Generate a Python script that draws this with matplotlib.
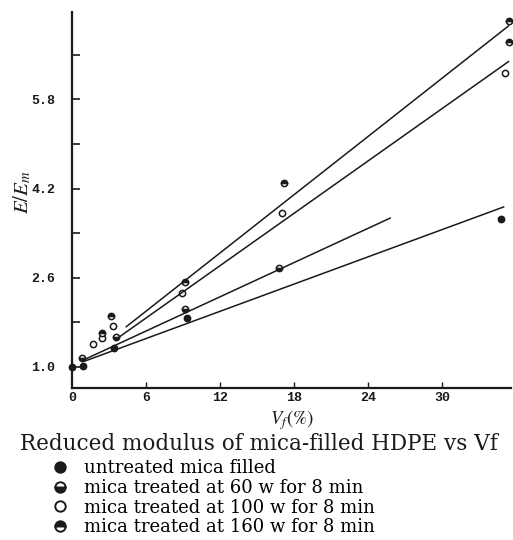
import matplotlib
matplotlib.use("Agg")
import matplotlib.pyplot as plt
from matplotlib.lines import Line2D

# ── Data ─────────────────────────────────────────────────────
# measured points (Vf %, E/Em)
untreated_x = [0.0, 0.9, 3.4, 9.3, 34.8]
untreated_y = [1.00, 1.02, 1.34, 1.88, 3.66]
w60_x = [0.8, 3.6, 9.2, 16.8]
w60_y = [1.16, 1.54, 2.04, 2.78]
w100_x = [1.7, 2.4, 3.3, 8.9, 17.0, 35.1]
w100_y = [1.41, 1.52, 1.74, 2.33, 3.76, 6.28]
w160_x = [2.4, 3.2, 9.2, 17.2, 35.4, 35.4]
w160_y = [1.61, 1.92, 2.53, 4.30, 7.21, 6.83]

# drawn fit lines (end points)
fit_untreated_x = [1.0, 35.0]
fit_untreated_y = [1.10, 3.87]
fit_60_x = [1.0, 25.8]
fit_60_y = [1.13, 3.67]
fit_100_x = [3.6, 35.4]
fit_100_y = [1.50, 6.48]
fit_160_x = [4.4, 35.4]
fit_160_y = [1.72, 7.12]

x_ticks = [6, 12, 18, 24, 30]
x_ticklabels = ["6", "12", "18", "24", "30"]
y_major = [1.0, 2.6, 4.2, 5.8]
y_minor = [1.8, 3.4, 5.0, 6.6]

legend_labels = [
    "untreated mica filled",
    "mica treated at 60 w for 8 min",
    "mica treated at 100 w for 8 min",
    "mica treated at 160 w for 8 min",
]
caption = "Reduced modulus of mica-filled HDPE vs Vf"

INK = "#1a1a1a"
plt.rcParams["mathtext.fontset"] = "stix"

fig = plt.figure(figsize=(5.13, 5.40), dpi=100)
ax = fig.add_axes([72 / 513, 152 / 540, 439 / 513, 376 / 540])

# fit lines
for fx, fy in [(fit_untreated_x, fit_untreated_y), (fit_60_x, fit_60_y),
               (fit_100_x, fit_100_y), (fit_160_x, fit_160_y)]:
    ax.plot(fx, fy, color=INK, linewidth=1.1)

# measured points
mk = dict(marker="o", linestyle="none", markersize=4.5, markeredgewidth=1.1,
          markeredgecolor=INK, markerfacecolor=INK, markerfacecoloralt="white",
          clip_on=False, zorder=3)
ax.plot(untreated_x, untreated_y, fillstyle="full", **mk)
ax.plot(w60_x, w60_y, fillstyle="bottom", **mk)
ax.plot(w100_x, w100_y, fillstyle="none", **mk)
ax.plot(w160_x, w160_y, fillstyle="top", **mk)

ax.set_xlim(0, 35.6)
ax.set_ylim(0.62, 7.37)

for s in ["top", "right"]:
    ax.spines[s].set_visible(False)
for s in ["left", "bottom"]:
    ax.spines[s].set_linewidth(1.6)
    ax.spines[s].set_color(INK)

ax.set_xticks(x_ticks)
ax.set_xticklabels(x_ticklabels)
ax.set_yticks(y_major)
ax.set_yticklabels([f"{v:.1f}" for v in y_major])
ax.set_yticks(y_minor, minor=True)
ax.tick_params(axis="y", which="both", direction="in", length=6, width=1.2,
               color=INK, pad=12)
ax.tick_params(axis="x", direction="in", length=4, width=1.0, color=INK, pad=3)
for lab in ax.get_xticklabels() + ax.get_yticklabels():
    lab.set_fontfamily("Liberation Mono")
    lab.set_fontweight("bold")
    lab.set_fontsize(9.5)
    lab.set_color(INK)

# "0" label at the origin
ax.text(0, -0.01, "0", transform=ax.get_xaxis_transform(), ha="center", va="top",
        fontfamily="Liberation Mono", fontweight="bold", fontsize=9.5, color=INK)

fig.text(22 / 513, 1 - 192 / 540, r"$E/E_m$", rotation=90, ha="center", va="center",
         fontsize=15, color=INK)
fig.text(292 / 513, 1 - 420 / 540, r"$V_f$(%)", ha="center", va="center",
         fontsize=13.5, color=INK, fontfamily="STIXGeneral")

fig.text(20 / 513, 1 - 444 / 540, caption, ha="left", va="center",
         fontfamily="DejaVu Serif", fontsize=15.5, color=INK)

handles = []
for fs in ["full", "bottom", "none", "top"]:
    handles.append(Line2D([], [], marker="o", linestyle="none", markersize=7.5,
                          markeredgewidth=1.4, markeredgecolor=INK,
                          markerfacecolor=INK, markerfacecoloralt="white",
                          fillstyle=fs))
fig.legend(handles, legend_labels, loc="upper left",
           bbox_to_anchor=(40 / 513, 1 - 450 / 540), frameon=False,
           handlelength=1.2, handletextpad=0.75, labelspacing=0.1,
           borderpad=0, prop={"family": "DejaVu Serif", "size": 13})

fig.savefig("out.png", dpi=100, facecolor="white")
